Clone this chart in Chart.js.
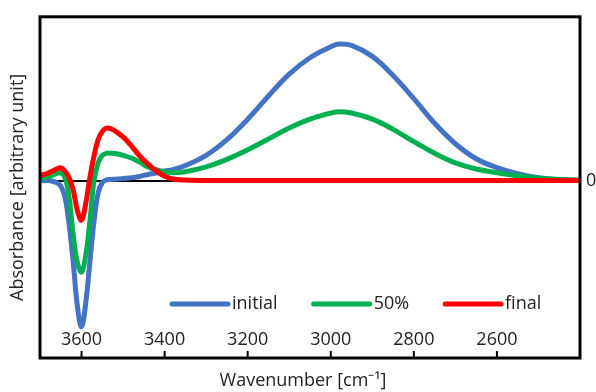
<!DOCTYPE html>
<html>
<head>
<meta charset="utf-8">
<script src="https://cdn.jsdelivr.net/npm/chart.js"></script>
<style>
  body { margin: 0; background: #fff; }
</style>
</head>
<body>
<canvas id="myChart" width="596" height="392"></canvas>
<script>
// wavenumber grid (cm-1) the curves were read at
const wavenumbers = [3700, 3690, 3680, 3670, 3660, 3650, 3640, 3630, 3620, 3610, 3600, 3590, 3580, 3570, 3560, 3550, 3540, 3530, 3520, 3500, 3480, 3460, 3440, 3420, 3400, 3380, 3350, 3300, 3250, 3200, 3150, 3100, 3050, 3000, 2980, 2950, 2900, 2850, 2800, 2750, 2700, 2650, 2600, 2550, 2500, 2450, 2400];

const initial = [0, 0, 0, -0.005, -0.015, -0.04, -0.12, -0.32, -0.6, -0.92, -1.07, -0.9, -0.6, -0.3, -0.09, -0.015, 0.005, 0.008, 0.01, 0.015, 0.02, 0.03, 0.045, 0.055, 0.07, 0.08, 0.11, 0.185, 0.3, 0.45, 0.62, 0.78, 0.9, 0.98, 1.0, 0.99, 0.91, 0.77, 0.6, 0.42, 0.27, 0.16, 0.095, 0.05, 0.02, 0.008, 0.002];

const half = [0.017, 0.02, 0.028, 0.04, 0.052, 0.055, 0.025, -0.12, -0.4, -0.6, -0.67, -0.55, -0.3, 0.0, 0.13, 0.185, 0.2, 0.2, 0.198, 0.185, 0.165, 0.135, 0.1, 0.08, 0.065, 0.058, 0.065, 0.1, 0.155, 0.225, 0.305, 0.385, 0.45, 0.495, 0.505, 0.495, 0.45, 0.375, 0.285, 0.2, 0.13, 0.085, 0.058, 0.035, 0.018, 0.007, 0.002];

const final = [0.04, 0.045, 0.055, 0.07, 0.085, 0.094, 0.07, 0.02, -0.07, -0.22, -0.29, -0.17, 0.02, 0.18, 0.3, 0.36, 0.385, 0.38, 0.365, 0.32, 0.255, 0.18, 0.12, 0.07, 0.032, 0.012, 0.004, 0.001, 0, 0, 0, 0, 0, 0, 0, 0, 0, 0, 0, 0, 0, 0, 0, 0, 0, 0, 0];

const seriesLabels = ['initial', '50%', 'final'];
const seriesColors = ['#4472C4', '#00B050', '#FF0000'];
const xTicks = [3600, 3400, 3200, 3000, 2800, 2600];

const font = { family: '"Open Sans", sans-serif', size: 18 };
const textColor = '#222';

function points(ys) {
  return wavenumbers.map((x, i) => ({ x: x, y: ys[i] }));
}

// frame round the plot, inner tick marks + labels and the legend inside the plot
const framePlugin = {
  id: 'frame',
  afterDatasetsDraw(chart) {
    const ctx = chart.ctx;
    const a = chart.chartArea;
    const x = chart.scales.x;
    ctx.save();
    ctx.font = font.size + 'px ' + font.family;
    ctx.fillStyle = textColor;
    ctx.textAlign = 'center';
    ctx.textBaseline = 'middle';
    ctx.strokeStyle = '#000';
    ctx.lineWidth = 2;
    x.ticks.forEach((t, i) => {
      const px = x.getPixelForTick(i);
      ctx.beginPath();
      ctx.moveTo(px, a.bottom);
      ctx.lineTo(px, a.bottom - 7);
      ctx.stroke();
      ctx.fillText(String(t.value), px, a.bottom - 18);
    });
    ctx.lineWidth = 3;
    ctx.strokeRect(a.left, a.top, a.right - a.left, a.bottom - a.top);

    // legend
    ctx.textAlign = 'left';
    let lx = a.left + 132;
    const ly = a.bottom - 54;
    chart.data.datasets.forEach(ds => {
      ctx.strokeStyle = ds.borderColor;
      ctx.lineWidth = 5;
      ctx.lineCap = 'round';
      ctx.beginPath();
      ctx.moveTo(lx, ly);
      ctx.lineTo(lx + 56, ly);
      ctx.stroke();
      ctx.fillText(ds.label, lx + 60, ly);
      lx += 60 + ctx.measureText(ds.label).width + 36;
    });
    ctx.restore();
  }
};

const ctx = document.getElementById('myChart');
new Chart(ctx, {
  type: 'line',
  data: {
    datasets: [
      { label: seriesLabels[0], data: points(initial), borderColor: seriesColors[0], order: 3 },
      { label: seriesLabels[1], data: points(half), borderColor: seriesColors[1], order: 2 },
      { label: seriesLabels[2], data: points(final), borderColor: seriesColors[2], order: 1 }
    ]
  },
  options: {
    responsive: false,
    animation: false,
    layout: { padding: { top: 13, right: 0, bottom: 0, left: 0 } },
    elements: {
      line: { borderWidth: 5, tension: 0.4, fill: false },
      point: { radius: 0 }
    },
    plugins: {
      legend: { display: false },
      tooltip: { enabled: false }
    },
    scales: {
      x: {
        type: 'linear',
        reverse: true,
        min: 2400,
        max: 3700,
        afterBuildTicks: s => { s.ticks = xTicks.map(v => ({ value: v })); },
        afterFit: s => { s.height = 34; },
        grid: { display: false },
        border: { display: false },
        ticks: { display: false },
        title: {
          display: true,
          text: 'Wavenumber [cm\u207B\u00B9]   ',
          color: textColor,
          font: font,
          padding: 0
        }
      },
      y: {
        min: -1.3,
        max: 1.2,
        afterBuildTicks: s => { s.ticks = [{ value: 0 }]; },
        afterFit: s => { s.width = 40; },
        grid: { color: '#000', lineWidth: 2, drawTicks: false },
        border: { display: false },
        ticks: { display: false },
        title: {
          display: true,
          text: 'Absorbance [arbitrary unit]',
          color: textColor,
          font: font,
          padding: { top: 7, bottom: 0 }
        }
      },
      y2: {
        axis: 'y',
        position: 'right',
        min: -1.3,
        max: 1.2,
        afterBuildTicks: s => { s.ticks = [{ value: 0 }]; },
        afterFit: s => { s.width = 16; },
        grid: { display: false, drawTicks: false },
        border: { display: false },
        ticks: { color: textColor, font: font, padding: 6, callback: () => '0' }
      }
    }
  },
  plugins: [framePlugin]
});
</script>
</body>
</html>
